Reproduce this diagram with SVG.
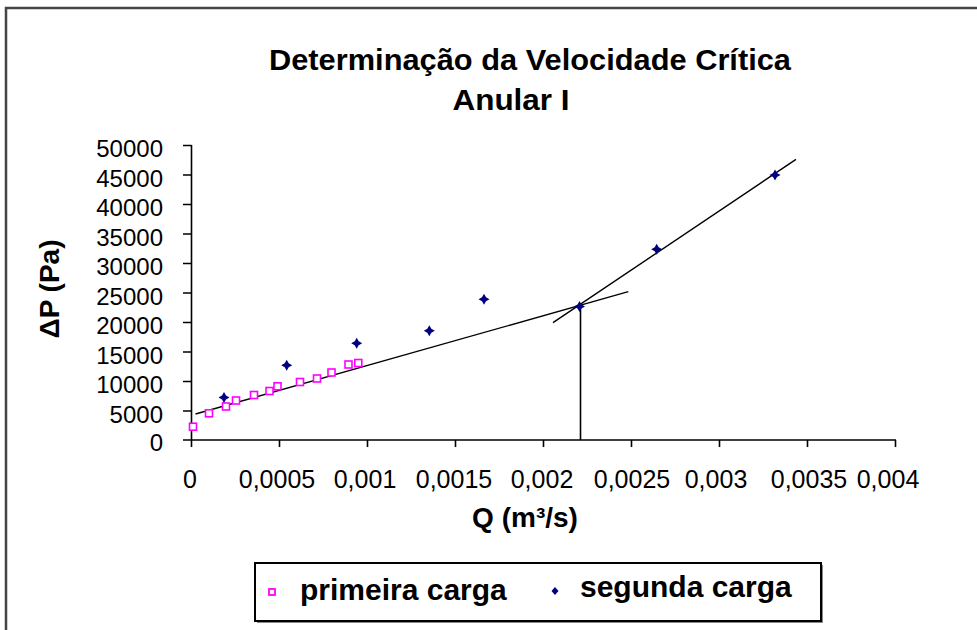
<svg xmlns="http://www.w3.org/2000/svg" xmlns:xlink="http://www.w3.org/1999/xlink" width="977" height="630" viewBox="0 0 977 630">
<style>
.t{font-family:"Liberation Sans",Arial,sans-serif;fill:#000}
.title{font-size:29px;font-weight:bold}
.ylab{font-size:24px;text-anchor:end}
.xlab{font-size:25px;text-anchor:middle}
.axt{font-size:28px;font-weight:bold;text-anchor:middle}
.leg{font-size:30px;font-weight:bold}
.ax{stroke:#000;stroke-width:1.6;fill:none}
.tr{stroke:#000;stroke-width:1.4;fill:none}
</style>
<defs>
<rect id="sq" x="-3.5" y="-3.5" width="7" height="7" fill="#fff" stroke="#FF00FF" stroke-width="1.6"/>
<path id="dm" d="M0,-5.5 L2,-2 L5.5,0 L2,2 L0,5.5 L-2,2 L-5.5,0 L-2,-2 Z" fill="#000080"/>
</defs>
<rect width="977" height="630" fill="#fff"/>
<rect id="frame" x="6" y="8" width="1000" height="700" fill="none" stroke="#444" stroke-width="2.5"/>
<g id="title">
<text class="t title" x="530" y="70" text-anchor="middle" textLength="522" lengthAdjust="spacingAndGlyphs">Determinação da Velocidade Crítica</text>
<text class="t title" x="511" y="110" text-anchor="middle" textLength="117" lengthAdjust="spacingAndGlyphs">Anular I</text>
</g>
<g id="axes">
<path class="ax" d="M191.5,145 V447 M183,440 H896"/>
<path class="ax" d="M183,145.5 H191.5 M183,175 H191.5 M183,204.5 H191.5 M183,234 H191.5 M183,263.5 H191.5 M183,293 H191.5 M183,322.5 H191.5 M183,352 H191.5 M183,381.5 H191.5 M183,411 H191.5"/>
<path class="ax" d="M279.5,440 V447 M367.5,440 V447 M455.5,440 V447 M543.5,440 V447 M631.5,440 V447 M719.5,440 V447 M807.5,440 V447 M895.5,440 V447"/>
</g>
<g id="ylabels">
<text class="t ylab" x="163" y="157">50000</text>
<text class="t ylab" x="163" y="187">45000</text>
<text class="t ylab" x="163" y="216">40000</text>
<text class="t ylab" x="163" y="246">35000</text>
<text class="t ylab" x="163" y="275">30000</text>
<text class="t ylab" x="163" y="305">25000</text>
<text class="t ylab" x="163" y="334">20000</text>
<text class="t ylab" x="163" y="364">15000</text>
<text class="t ylab" x="163" y="393">10000</text>
<text class="t ylab" x="163" y="423">5000</text>
<text class="t ylab" x="163" y="451">0</text>
</g>
<g id="xlabels">
<text class="t xlab" x="190" y="488">0</text>
<text class="t xlab" x="277" y="488">0,0005</text>
<text class="t xlab" x="365" y="488">0,001</text>
<text class="t xlab" x="454" y="488">0,0015</text>
<text class="t xlab" x="542" y="488">0,002</text>
<text class="t xlab" x="632" y="488">0,0025</text>
<text class="t xlab" x="716" y="488">0,003</text>
<text class="t xlab" x="809" y="488">0,0035</text>
<text class="t xlab" x="888" y="488">0,004</text>
</g>
<g id="axis-titles">
<text class="t axt" x="525" y="527">Q (m³/s)</text>
<text class="t axt" font-size="33" transform="translate(59,289) rotate(-90)">ΔP (Pa)</text>
</g>
<g id="connectors">
<path class="tr" d="M195.5,414 L628.3,291.7"/>
<path class="tr" d="M553,322.7 L796,159.3"/>
<path class="ax" d="M580.5,305 V440"/>
</g>
<g id="primeira-carga">
<use xlink:href="#sq" x="193" y="426.7"/>
<use xlink:href="#sq" x="209" y="413.3"/>
<use xlink:href="#sq" x="226" y="406.5"/>
<use xlink:href="#sq" x="236" y="400.5"/>
<use xlink:href="#sq" x="254" y="395"/>
<use xlink:href="#sq" x="269.5" y="391"/>
<use xlink:href="#sq" x="277.5" y="386.3"/>
<use xlink:href="#sq" x="300" y="382"/>
<use xlink:href="#sq" x="317" y="378.5"/>
<use xlink:href="#sq" x="331.5" y="372.5"/>
<use xlink:href="#sq" x="348.5" y="364.5"/>
<use xlink:href="#sq" x="358.3" y="363"/>
</g>
<g id="segunda-carga">
<use xlink:href="#dm" x="224" y="397.5"/>
<use xlink:href="#dm" x="286.7" y="365.3"/>
<use xlink:href="#dm" x="356.7" y="343.3"/>
<use xlink:href="#dm" x="429.3" y="330.7"/>
<use xlink:href="#dm" x="484" y="299.3"/>
<use xlink:href="#dm" x="579.5" y="306.5"/>
<use xlink:href="#dm" x="656.7" y="249.3"/>
<use xlink:href="#dm" x="775" y="175"/>
</g>
<g id="legend">
<rect x="257" y="565" width="566" height="58" fill="#888" stroke="none"/>
<rect x="255" y="563" width="566" height="58" fill="#fff" stroke="#000" stroke-width="2"/>
<rect x="269" y="589" width="6" height="6" fill="#fff" stroke="#FF00FF" stroke-width="1.8"/>
<text class="t leg" x="300" y="600">primeira carga</text>
<path d="M555,587 L558.5,591 L555,595 L551.5,591 Z" fill="#000080"/>
<text class="t leg" x="580" y="597">segunda carga</text>
</g>
</svg>
